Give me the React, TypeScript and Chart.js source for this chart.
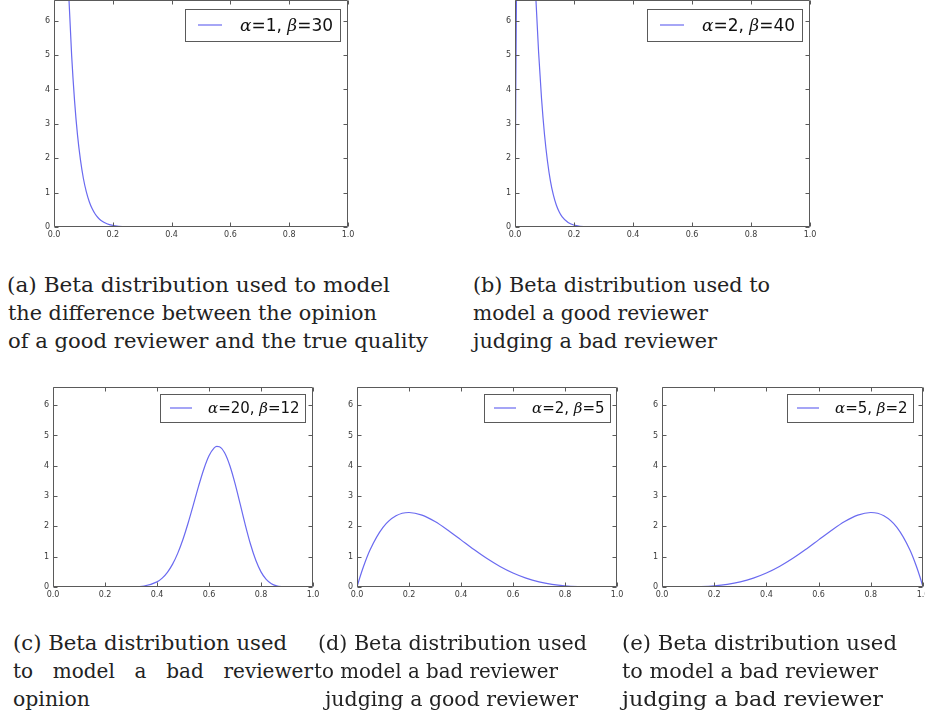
import React, { useEffect, useLayoutEffect, useRef } from 'react';
import { Chart, registerables } from 'chart.js';

Chart.register(...registerables);

// ---------- data ----------
const xTicks = [0, 0.2, 0.4, 0.6, 0.8, 1.0];
const yTicks = [0, 1, 2, 3, 4, 5, 6];
const Y_MAX = 6.6;

const labelA = 'α=1, β=30';
const aX = [0, 0.01, 0.02, 0.03, 0.04, 0.05, 0.06, 0.07, 0.08, 0.09, 0.1, 0.11, 0.12, 0.13, 0.14, 0.15, 0.16, 0.18, 0.2, 0.22, 0.25, 0.3, 0.4, 0.5, 0.6, 0.7, 0.8, 0.9, 1.0];
const aY = [30, 22.42, 16.7, 12.4, 9.18, 6.78, 4.99, 3.66, 2.67, 1.95, 1.41, 1.02, 0.736, 0.529, 0.378, 0.269, 0.191, 0.095, 0.046, 0.022, 0.007, 0.001, 0, 0, 0, 0, 0, 0, 0];

const labelB = 'α=2, β=40';
const bX = [0, 0.0025, 0.005, 0.0075, 0.01, 0.02, 0.025, 0.03, 0.04, 0.05, 0.06, 0.07, 0.08, 0.09, 0.1, 0.11, 0.12, 0.13, 0.14, 0.15, 0.16, 0.18, 0.2, 0.22, 0.25, 0.3, 0.4, 0.6, 0.8, 1.0];
const bY = [0, 3.72, 6.74, 9.17, 11.08, 14.92, 15.28, 15.0, 13.35, 11.09, 8.81, 6.77, 5.08, 3.73, 2.69, 1.92, 1.34, 0.933, 0.64, 0.435, 0.292, 0.128, 0.0545, 0.0223, 0.0055, 0.0004, 0, 0, 0, 0];

const labelC = 'α=20, β=12';
const cX = [0, 0.1, 0.2, 0.25, 0.3, 0.35, 0.4, 0.42, 0.44, 0.46, 0.48, 0.5, 0.52, 0.54, 0.56, 0.58, 0.6, 0.62, 0.63, 0.64, 0.66, 0.68, 0.7, 0.72, 0.74, 0.76, 0.78, 0.8, 0.82, 0.84, 0.86, 0.88, 0.9, 0.95, 1.0];
const cY = [0, 0, 0, 0.0003, 0.0039, 0.0322, 0.169, 0.294, 0.484, 0.754, 1.118, 1.577, 2.121, 2.72, 3.329, 3.887, 4.328, 4.59, 4.639, 4.629, 4.43, 4.009, 3.42, 2.734, 2.036, 1.401, 0.881, 0.5, 0.251, 0.109, 0.039, 0.011, 0.0023, 0, 0];

const labelD = 'α=2, β=5';
const dX = [0, 0.01, 0.025, 0.05, 0.1, 0.15, 0.2, 0.25, 0.3, 0.35, 0.4, 0.45, 0.5, 0.55, 0.6, 0.65, 0.7, 0.75, 0.8, 0.85, 0.9, 0.95, 1.0];
const dY = [0, 0.288, 0.678, 1.222, 1.968, 2.349, 2.458, 2.373, 2.161, 1.874, 1.555, 1.235, 0.938, 0.677, 0.461, 0.293, 0.17, 0.088, 0.038, 0.013, 0.003, 0.0002, 0];

const labelE = 'α=5, β=2';
const eX = [0, 0.05, 0.1, 0.15, 0.2, 0.25, 0.3, 0.35, 0.4, 0.45, 0.5, 0.55, 0.6, 0.65, 0.7, 0.75, 0.8, 0.85, 0.9, 0.95, 0.975, 0.99, 1.0];
const eY = [0, 0.0002, 0.003, 0.013, 0.038, 0.088, 0.17, 0.293, 0.461, 0.677, 0.938, 1.235, 1.555, 1.874, 2.161, 2.373, 2.458, 2.349, 1.968, 1.222, 0.678, 0.288, 0];

const captionA = ['(a) Beta distribution used to model', 'the difference between the opinion', 'of a good reviewer and the true quality'];
const captionB = ['(b) Beta distribution used to', 'model a good reviewer', 'judging a bad reviewer'];
const captionC = ['(c) Beta distribution used', 'to model a bad reviewer', 'opinion'];
const captionD = ['(d) Beta distribution used', 'to model a bad reviewer', 'judging a good reviewer'];
const captionE = ['(e) Beta distribution used', 'to model a bad reviewer', 'judging a bad reviewer'];

// ---------- styles ----------
const LINE = '#6a6af0';
const FRAME = '#5a5a5a';
const TICK_TXT = '#3a3a3a';
const PAD_L = 40;
const PAD_T = 10;
const PAD_R = 12;
const PAD_B = 16;

type Spec = {
  label: string;
  xs: number[];
  ys: number[];
  area: { l: number; t: number; r: number; b: number };
  legend: { font: number; h: number; padL: number; line: number; gap: number; padR: number; offR: number; offT: number };
};

const framePlugin = {
  id: 'frameTicks',
  afterDraw(chart: any) {
    const { ctx, chartArea: a } = chart;
    const xs = chart.scales.x;
    const ys = chart.scales.y;
    ctx.save();
    ctx.strokeStyle = FRAME;
    ctx.lineWidth = 1;
    ctx.beginPath();
    const L = Math.round(a.left) + 0.5, R = Math.round(a.right) - 0.5;
    const T = Math.round(a.top) + 0.5, B = Math.round(a.bottom) - 0.5;
    ctx.rect(L, T, R - L, B - T);
    const tl = 4;
    xTicks.forEach((v) => {
      const p = Math.round(xs.getPixelForValue(v)) + 0.5;
      ctx.moveTo(p, B); ctx.lineTo(p, B - tl);
      ctx.moveTo(p, T); ctx.lineTo(p, T + tl);
    });
    yTicks.forEach((v) => {
      const p = Math.round(ys.getPixelForValue(v)) + 0.5;
      ctx.moveTo(L, p); ctx.lineTo(L + tl, p);
      ctx.moveTo(R, p); ctx.lineTo(R - tl, p);
    });
    ctx.stroke();
    ctx.restore();
  },
};

function legendPlugin(spec: Spec) {
  return {
    id: 'boxLegend',
    afterDraw(chart: any) {
      const { ctx, chartArea: a } = chart;
      const ds = chart.data.datasets[0];
      const o = spec.legend;
      const segs: { t: string; g: boolean; w: number }[] = [];
      for (const ch of String(ds.label)) {
        const g = /[α-ω]/.test(ch);
        const last = segs[segs.length - 1];
        if (last && last.g === g) last.t += ch; else segs.push({ t: ch, g, w: 0 });
      }
      const sans = `${o.font}px "DejaVu Sans"`;
      const ital = `italic ${o.font}px "DejaVu Serif"`;
      ctx.save();
      let tw = 0;
      segs.forEach((s) => { ctx.font = s.g ? ital : sans; s.w = ctx.measureText(s.t).width; tw += s.w; });
      const w = Math.round(o.padL + o.line + o.gap + tw + o.padR);
      const right = Math.round(a.right - o.offR);
      const top = Math.round(a.top + o.offT);
      const left = right - w;
      ctx.fillStyle = '#fff';
      ctx.fillRect(left, top, w, o.h);
      ctx.strokeStyle = FRAME;
      ctx.lineWidth = 1;
      ctx.strokeRect(left + 0.5, top + 0.5, w, o.h);
      const cy = top + o.h / 2;
      ctx.strokeStyle = ds.borderColor;
      ctx.lineWidth = ds.borderWidth;
      ctx.beginPath();
      ctx.moveTo(left + o.padL, cy);
      ctx.lineTo(left + o.padL + o.line, cy);
      ctx.stroke();
      ctx.fillStyle = '#111';
      ctx.textBaseline = 'alphabetic';
      let x = left + o.padL + o.line + o.gap;
      const base = cy + o.font * 0.365;
      segs.forEach((s) => { ctx.font = s.g ? ital : sans; ctx.fillText(s.t, x, base); x += s.w; });
      ctx.restore();
    },
  };
}

function ChartBox({ spec }: { spec: Spec }) {
  const ref = useRef<HTMLCanvasElement>(null);
  const { l, t, r, b } = spec.area;
  const W = r - l + PAD_L + PAD_R;
  const H = b - t + PAD_T + PAD_B;
  useEffect(() => {
    if (!ref.current) return;
    const tickFont = { family: '"DejaVu Sans"', size: 8 };
    const chart = new Chart(ref.current, {
      type: 'line',
      data: {
        datasets: [
          {
            label: spec.label,
            data: spec.xs.map((x, i) => ({ x, y: spec.ys[i] })),
            borderColor: LINE,
            borderWidth: 1.2,
            pointRadius: 0,
            fill: false,
            cubicInterpolationMode: 'monotone',
          },
        ],
      },
      options: {
        animation: false,
        responsive: false,
        maintainAspectRatio: false,
        events: [],
        layout: { padding: { top: PAD_T, right: PAD_R, left: 0, bottom: 0 } },
        plugins: { legend: { display: false }, tooltip: { enabled: false } },
        scales: {
          x: {
            type: 'linear',
            min: 0,
            max: 1,
            afterBuildTicks: (s: any) => { s.ticks = xTicks.map((v) => ({ value: v })); },
            afterFit: (s: any) => { s.height = PAD_B; },
            ticks: { padding: 3, font: tickFont, color: TICK_TXT, autoSkip: false, maxRotation: 0, minRotation: 0, callback: (v: any) => Number(v).toFixed(1) },
            grid: { display: false, drawTicks: false, tickLength: 0 },
            border: { display: false },
          },
          y: {
            type: 'linear',
            min: 0,
            max: Y_MAX,
            afterBuildTicks: (s: any) => { s.ticks = yTicks.map((v) => ({ value: v })); },
            afterFit: (s: any) => { s.width = PAD_L; },
            ticks: { padding: 4, font: tickFont, color: TICK_TXT, callback: (v: any) => String(v) },
            grid: { display: false, drawTicks: false, tickLength: 0 },
            border: { display: false },
          },
        },
      } as any,
      plugins: [framePlugin, legendPlugin(spec)],
    });
    return () => chart.destroy();
  }, [spec]);
  return (
    <canvas
      ref={ref}
      width={W}
      height={H}
      style={{ position: 'absolute', left: l - PAD_L, top: t - PAD_T, width: W, height: H }}
    />
  );
}

function CapLine({ x, base, w, text, justify }: { x: number; base: number; w: number; text: string; justify?: boolean }) {
  const ref = useRef<HTMLDivElement>(null);
  useLayoutEffect(() => {
    const el = ref.current;
    if (!el || justify) return;
    el.style.transform = 'none';
    const actual = el.getBoundingClientRect().width;
    if (actual > 0) el.style.transform = `scaleX(${w / actual})`;
  }, [w, text, justify]);
  const style: React.CSSProperties = {
    position: 'absolute',
    left: x,
    top: base - 17,
    fontFamily: '"DejaVu Serif", serif',
    fontSize: 20,
    lineHeight: '20px',
    color: '#222',
    whiteSpace: 'nowrap',
    transformOrigin: '0 0',
  };
  if (justify) {
    return (
      <div ref={ref} style={{ ...style, width: w, display: 'flex', justifyContent: 'space-between' }}>
        {text.split(' ').map((word, i) => <span key={i}>{word}</span>)}
      </div>
    );
  }
  return <div ref={ref} style={style}>{text}</div>;
}

const topLegend = { font: 17, h: 32, padL: 13, line: 24, gap: 18, padR: 7, offR: 8, offT: 9 };
const botLegend = { font: 15, h: 28, padL: 10, line: 22, gap: 16, padR: 5, offR: 8, offT: 7 };

const specs: Spec[] = [
  { label: labelA, xs: aX, ys: aY, area: { l: 54, t: 0, r: 348, b: 227 }, legend: topLegend },
  { label: labelB, xs: bX, ys: bY, area: { l: 515, t: 0, r: 810, b: 227 }, legend: topLegend },
  { label: labelC, xs: cX, ys: cY, area: { l: 53, t: 387, r: 313, b: 587 }, legend: botLegend },
  { label: labelD, xs: dX, ys: dY, area: { l: 357, t: 387, r: 617, b: 587 }, legend: { ...botLegend, offR: 7 } },
  { label: labelE, xs: eX, ys: eY, area: { l: 662, t: 387, r: 923, b: 587 }, legend: { ...botLegend, offR: 10 } },
];

export default function App() {
  return (
    <div style={{ position: 'absolute', left: 0, top: 0, width: 925, height: 715, overflow: 'hidden', background: '#fff' }}>
      {specs.map((s, i) => <ChartBox key={i} spec={s} />)}

      <CapLine x={7} base={292} w={383} text={captionA[0]} />
      <CapLine x={8} base={320} w={369} text={captionA[1]} />
      <CapLine x={8} base={348} w={420} text={captionA[2]} />

      <CapLine x={473} base={292} w={297} text={captionB[0]} />
      <CapLine x={473} base={320} w={235} text={captionB[1]} />
      <CapLine x={473} base={348} w={244} text={captionB[2]} />

      <CapLine x={13} base={650} w={274} text={captionC[0]} />
      <CapLine x={13} base={678} w={300} text={captionC[1]} justify />
      <CapLine x={13} base={706} w={77} text={captionC[2]} />

      <CapLine x={318} base={650} w={269} text={captionD[0]} />
      <CapLine x={314} base={678} w={244} text={captionD[1]} />
      <CapLine x={325} base={706} w={253} text={captionD[2]} />

      <CapLine x={622} base={650} w={275} text={captionE[0]} />
      <CapLine x={622} base={678} w={256} text={captionE[1]} />
      <CapLine x={622} base={706} w={261} text={captionE[2]} />
    </div>
  );
}
